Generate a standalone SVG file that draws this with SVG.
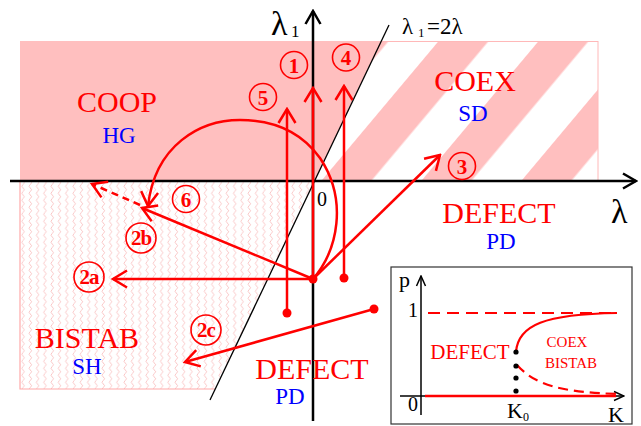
<svg xmlns="http://www.w3.org/2000/svg" width="641" height="426" viewBox="0 0 641 426">
<style>
text{font-family:'Liberation Serif','Times New Roman',Times,'DejaVu Serif',serif}
.r{fill:#ff0000}
.b{fill:#0000ff}
.k{fill:#000}
.big{font-size:30px}
.mid{font-size:23px}
.cl{fill:none;stroke:#ff0000;stroke-width:1.6}
.cn{font-weight:bold;fill:#ff0000;font-size:21px;text-anchor:middle}
.ra{fill:none;stroke:#ff0000;stroke-width:2.5}
.dot{fill:#ff0000}
</style>
<defs>
<pattern id="stripes" patternUnits="userSpaceOnUse" x="56" y="0" width="76.6" height="10" patternTransform="rotate(40)">
<rect x="0" y="0" width="38.3" height="10" fill="#ffbfbf"/>
</pattern>
<pattern id="wavy" patternUnits="userSpaceOnUse" x="20" y="181" width="7.3" height="7">
<path d="M3,0 Q5.5,1.75 3,3.5 Q0.5,5.25 3,7" fill="none" stroke="#f9b8b8" stroke-width="0.8"/>
</pattern>
<marker id="ah" markerUnits="userSpaceOnUse" viewBox="-17 -11 19 22" markerWidth="19" markerHeight="22" refX="0" refY="0" orient="auto">
<path d="M-14,-8.5 L0,0 L-14,8.5" fill="none" stroke="#ff0000" stroke-width="2.5"/>
</marker>
<marker id="ahk" markerUnits="userSpaceOnUse" viewBox="-17 -11 19 22" markerWidth="19" markerHeight="22" refX="0" refY="0" orient="auto">
<path d="M-13,-7.5 L0,0 L-13,7.5" fill="none" stroke="#000" stroke-width="2.5"/>
</marker>
<marker id="ahs" markerUnits="userSpaceOnUse" viewBox="-12 -7 13 14" markerWidth="13" markerHeight="14" refX="0" refY="0" orient="auto">
<path d="M-10,-4.5 L0,0 L-10,4.5" fill="none" stroke="#000" stroke-width="1.5"/>
</marker>
</defs>
<rect width="641" height="426" fill="#fff"/>
<g id="regions">
<rect x="313" y="41.5" width="285" height="139.5" fill="url(#stripes)" stroke="#ffb8b8" stroke-width="1"/>
<polygon points="20,41 381,41 314.5,181 20,181" fill="#ffbfbf"/>
<polygon points="20,181 314.5,181 215,389 20,389" fill="url(#wavy)"/>
<polyline points="20,181 20,389 215,389" fill="none" stroke="#ffaaaa" stroke-width="1.2"/>
</g>
<g id="axes">
<line x1="210" y1="400" x2="389" y2="25" stroke="#000" stroke-width="1.3"/>
<line x1="313" y1="421" x2="313" y2="11" stroke="#000" stroke-width="2.5" marker-end="url(#ahk)"/>
<line x1="10" y1="181" x2="636" y2="181" stroke="#000" stroke-width="2.5" marker-end="url(#ahk)"/>
<text class="k" x="271" y="35" font-size="34">λ</text>
<text class="k" x="291" y="37" font-size="17">1</text>
<text class="k" x="611" y="223" font-size="34">λ</text>
<text class="k" x="317" y="206" font-size="20">0</text>
<text class="k" x="402" y="34" font-size="23">λ</text>
<text class="k" x="418" y="37" font-size="13">1</text>
<text class="k" x="427" y="34" font-size="23">=2λ</text>
</g>
<g id="connectors">
<line class="ra" x1="313" y1="279" x2="313" y2="88" marker-end="url(#ah)"/>
<line class="ra" x1="287" y1="313" x2="287" y2="109" marker-end="url(#ah)"/>
<line class="ra" x1="344" y1="278" x2="344" y2="86" marker-end="url(#ah)"/>
<line class="ra" x1="313" y1="279" x2="440" y2="155" marker-end="url(#ah)"/>
<line class="ra" x1="313" y1="279" x2="113" y2="279" marker-end="url(#ah)"/>
<line class="ra" x1="313" y1="279" x2="142" y2="208" marker-end="url(#ah)"/>
<line class="ra" x1="374" y1="309" x2="185" y2="362" marker-end="url(#ah)"/>
<path class="ra" d="M313,279 C338,250 348,200 320,158 C300,130 270,120 240,120 C200,120 155,145 148,206" marker-end="url(#ah)"/>
<line class="ra" x1="140" y1="205" x2="92" y2="184" stroke-dasharray="7,5" marker-end="url(#ah)"/>
<circle class="dot" cx="313" cy="279" r="4.5"/>
<circle class="dot" cx="287" cy="313" r="4.5"/>
<circle class="dot" cx="344" cy="278" r="4.5"/>
<circle class="dot" cx="374" cy="309" r="4.5"/>
</g>
<g id="label-1"><circle class="cl" cx="294" cy="65" r="13.5"/><text class="cn" x="294" y="72.5">1</text></g>
<g id="label-5"><circle class="cl" cx="263" cy="97" r="13.5"/><text class="cn" x="263" y="104.5">5</text></g>
<g id="label-4"><circle class="cl" cx="346" cy="57.5" r="13.5"/><text class="cn" x="346" y="65">4</text></g>
<g id="label-3"><circle class="cl" cx="462" cy="166" r="13.5"/><text class="cn" x="462" y="173.5">3</text></g>
<g id="label-6"><circle class="cl" cx="186" cy="199" r="13.5"/><text class="cn" x="186" y="206.5">6</text></g>
<g id="label-2b"><circle class="cl" cx="141" cy="238" r="15"/><text class="cn" x="141" y="245" font-size="20" letter-spacing="-1">2b</text></g>
<g id="label-2a"><circle class="cl" cx="89" cy="277" r="15"/><text class="cn" x="89" y="284" font-size="20" letter-spacing="-1">2a</text></g>
<g id="label-2c"><circle class="cl" cx="206" cy="330" r="15"/><text class="cn" x="206" y="337" font-size="20" letter-spacing="-1">2c</text></g>
<g id="coop"><text class="r big" x="117" y="112" text-anchor="middle">COOP</text><text class="b mid" x="119" y="143" text-anchor="middle">HG</text></g>
<g id="coex"><text class="r big" x="475" y="91" text-anchor="middle">COEX</text><text class="b mid" x="473" y="121" text-anchor="middle">SD</text></g>
<g id="defect-right"><text class="r big" x="499" y="223" text-anchor="middle">DEFECT</text><text class="b mid" x="501" y="249" text-anchor="middle">PD</text></g>
<g id="defect-bottom"><text class="r big" x="312" y="379" text-anchor="middle">DEFECT</text><text class="b mid" x="290" y="404" text-anchor="middle">PD</text></g>
<g id="bistab"><text class="r big" x="87" y="348" text-anchor="middle">BISTAB</text><text class="b mid" x="87" y="374" text-anchor="middle">SH</text></g>
<g id="inset">
<rect x="391" y="267" width="241" height="157" fill="#fff" stroke="#333" stroke-width="1.2"/>
<line x1="421" y1="415" x2="421" y2="276" stroke="#000" stroke-width="1.5" marker-end="url(#ahs)"/>
<line x1="400" y1="396" x2="624" y2="396" stroke="#000" stroke-width="1.5" marker-end="url(#ahs)"/>
<line x1="428" y1="313" x2="617" y2="313" stroke="#ff0000" stroke-width="2.2" stroke-dasharray="12,7"/>
<path d="M516,352 C518,325 545,314 617,313" fill="none" stroke="#ff0000" stroke-width="2.2"/>
<path d="M517,365 C535,385 560,392 617,394" fill="none" stroke="#ff0000" stroke-width="2.2" stroke-dasharray="10,6"/>
<line x1="425" y1="396" x2="616" y2="396" stroke="#ff0000" stroke-width="2.5"/>
<circle cx="516" cy="352" r="2.6" fill="#000"/>
<circle cx="516" cy="366" r="2.6" fill="#000"/>
<circle cx="516" cy="378" r="2.6" fill="#000"/>
<circle cx="516" cy="391" r="2.6" fill="#000"/>
<text class="k" x="399" y="287" font-size="22">p</text>
<text class="k" x="418" y="317" font-size="20" text-anchor="end">1</text>
<text class="k" x="418" y="411" font-size="20" text-anchor="end">0</text>
<text class="k" x="507" y="418" font-size="22">K</text>
<text class="k" x="523" y="421" font-size="12">0</text>
<text class="k" x="608" y="422" font-size="22">K</text>
<text class="r" x="470" y="359" font-size="21" text-anchor="middle">DEFECT</text>
<text class="r" x="567" y="347" font-size="15" text-anchor="middle">COEX</text>
<text class="r" x="571" y="368" font-size="15" text-anchor="middle">BISTAB</text>
</g>
</svg>
